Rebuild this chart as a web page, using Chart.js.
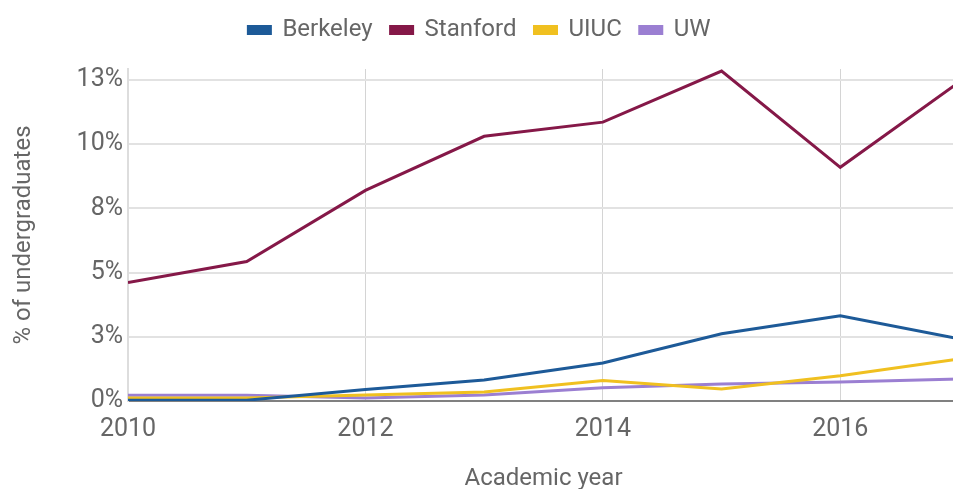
<!DOCTYPE html>
<html>
<head>
<meta charset="utf-8">
<title>Share of undergraduates</title>
<script src="https://cdn.jsdelivr.net/npm/chart.js@4.4.1/dist/chart.umd.min.js"></script>
<style>
  html, body { margin: 0; padding: 0; background: #fff; overflow: hidden; }
  .wrap { width: 959px; height: 489px; }
</style>
</head>
<body>
<div class="wrap"><canvas id="grafik"></canvas></div>
<script>
// data (persen mahasiswa S1)
const years = [2010, 2011, 2012, 2013, 2014, 2015, 2016, 2017];
const berkeley = [0.03, 0.03, 0.45, 0.82, 1.48, 2.62, 3.32, 2.42];
const stanford = [4.61, 5.43, 8.2, 10.31, 10.86, 12.85, 9.1, 12.42];
const uiuc = [0.12, 0.12, 0.23, 0.35, 0.8, 0.47, 0.98, 1.64];
const uw = [0.22, 0.22, 0.12, 0.23, 0.52, 0.66, 0.74, 0.86];

const seriesNames = ['Berkeley', 'Stanford', 'UIUC', 'UW'];
const seriesColors = ['#1d5a98', '#851848', '#f0c020', '#9b7fd2'];
const seriesValues = [berkeley, stanford, uiuc, uw];

const yTickStep = 2.5;
const xTickStep = 2;

const fontFamily = 'Roboto, "Liberation Sans", sans-serif';

const datasets = seriesNames.map((name, i) => ({
    label: name,
    data: years.map((yr, j) => ({ x: yr, y: seriesValues[i][j] })),
    borderColor: seriesColors[i],
    backgroundColor: seriesColors[i],
    borderWidth: 3,
    pointRadius: 0,
    tension: 0
}));

// jarak ekstra di bawah legend
const legendGap = {
    id: 'legendGap',
    beforeInit(chart) {
        const fitAsli = chart.legend.fit;
        chart.legend.fit = function () {
            fitAsli.bind(this)();
            this.height += 17;
        };
    }
};

new Chart(document.getElementById('grafik'), {
    type: 'line',
    data: { datasets: datasets },
    plugins: [legendGap],
    options: {
        responsive: true,
        maintainAspectRatio: false,
        animation: false,
        layout: { padding: 0 },
        plugins: {
            tooltip: { enabled: false },
            legend: {
                position: 'top',
                labels: {
                    color: '#666',
                    font: { family: fontFamily, size: 24 },
                    boxWidth: 22,
                    boxHeight: 7,
                    padding: 18
                }
            }
        },
        scales: {
            x: {
                type: 'linear',
                min: 2010,
                max: 2017,
                afterFit: s => { s.height = 88; },
                ticks: {
                    stepSize: xTickStep,
                    includeBounds: false,
                    color: '#666',
                    padding: 14,
                    font: { family: fontFamily, size: 25 },
                    callback: v => String(v)
                },
                grid: { color: '#d4d4d4', lineWidth: 1, drawTicks: false },
                border: { color: '#808080', width: 2 },
                title: {
                    display: true,
                    text: 'Academic year',
                    color: '#666',
                    font: { family: fontFamily, size: 24 },
                    padding: { top: 0, bottom: -4 }
                }
            },
            y: {
                min: 0,
                max: 12.93,
                afterFit: s => { s.width = 128; },
                ticks: {
                    stepSize: yTickStep,
                    includeBounds: false,
                    color: '#666',
                    padding: 5,
                    font: { family: fontFamily, size: 25 },
                    callback: v => Math.round(v) + '%'
                },
                grid: { color: '#e2e2e2', lineWidth: 2, drawTicks: false },
                border: { color: '#dddddd', width: 2 },
                title: {
                    display: true,
                    text: '% of undergraduates',
                    color: '#666',
                    font: { family: fontFamily, size: 24 },
                    padding: { top: 10, bottom: 0 }
                }
            }
        }
    }
});
</script>
</body>
</html>
